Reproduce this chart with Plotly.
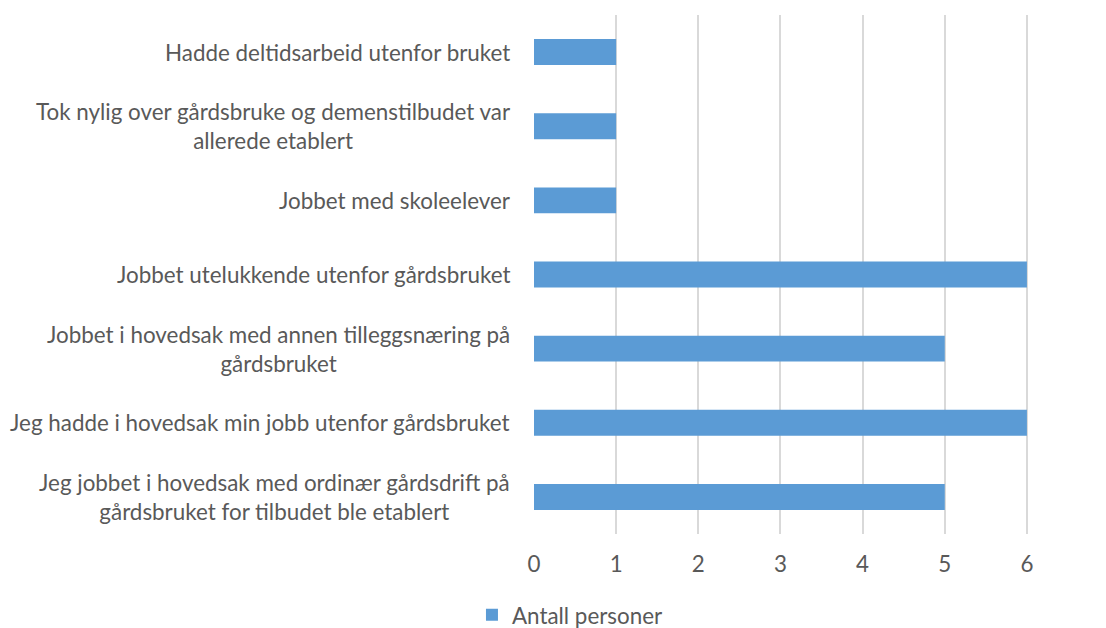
import plotly.graph_objects as go

categories = [
    "Jeg jobbet i hovedsak med ordinær gårdsdrift på<br>gårdsbruket for tilbudet ble etablert",
    "Jeg hadde i hovedsak min jobb utenfor gårdsbruket",
    "Jobbet i hovedsak med annen tilleggsnæring på<br>gårdsbruket",
    "Jobbet utelukkende utenfor gårdsbruket",
    "Jobbet med skoleelever",
    "Tok nylig over gårdsbruke og demenstilbudet var<br>allerede etablert",
    "Hadde deltidsarbeid utenfor bruket",
]
values = [5, 6, 5, 6, 1, 1, 1]
series_name = "Antall personer"
x_ticks = [0, 1, 2, 3, 4, 5, 6, 7]

FONT = "Lato"
TXT = "#595959"
FS = 22.4

fig = go.Figure()
fig.add_trace(go.Bar(
    y=list(range(len(categories))),
    x=values,
    orientation="h",
    name=series_name,
    marker=dict(color="#5B9BD5", line=dict(width=0)),
    width=0.35,
    showlegend=True,
))

for i, c in enumerate(categories):
    fig.add_annotation(
        x=0, xref="paper", y=i, yref="y",
        text=c, showarrow=False,
        xanchor="right", yanchor="middle", align="center",
        xshift=-22,
        font=dict(family=FONT, size=FS, color=TXT),
    )

fig.update_layout(
    width=1106, height=628,
    margin=dict(l=526, r=0, t=7, b=102),
    paper_bgcolor="white", plot_bgcolor="white",
    font=dict(family=FONT, size=FS, color=TXT),
    xaxis=dict(
        range=[0, 7.06],
        tickmode="array", tickvals=x_ticks,
        showgrid=True, gridcolor="#D9D9D9", gridwidth=1.5,
        zeroline=False, showline=False,
        ticks="", ticklabelstandoff=15,
        tickfont=dict(family=FONT, size=FS, color=TXT),
    ),
    yaxis=dict(
        range=[-0.5, 6.5],
        showticklabels=False, showgrid=False, zeroline=False, showline=False,
    ),
    legend=dict(
        orientation="h",
        xref="container", yref="container",
        x=0.4195, y=0.033, xanchor="left", yanchor="middle",
        font=dict(family=FONT, size=FS, color=TXT),
        itemwidth=30,
    ),
)

fig.write_html("out.html")
